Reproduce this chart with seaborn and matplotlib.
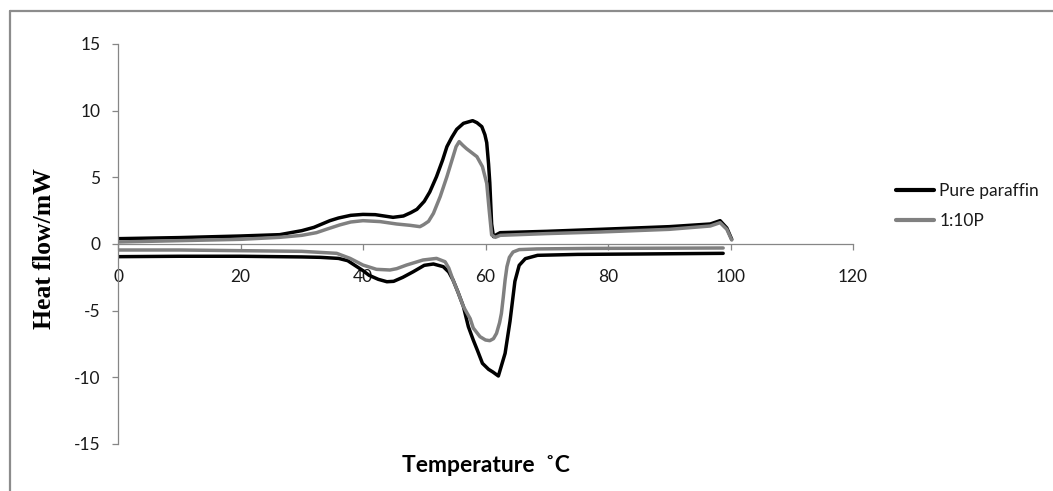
import numpy as np
import pandas as pd
import matplotlib
matplotlib.use("Agg")
import matplotlib.pyplot as plt
from matplotlib.lines import Line2D
import seaborn as sns

# ---------------- data ----------------
samples = ["Pure paraffin", "1:10P"]

pure_heat_T = [0, 10, 20, 26.4, 30, 32, 34.6, 36, 38, 40, 42, 44.9, 46.6, 47.8, 48.8, 50, 50.9,
               52.0, 53.0, 53.7, 54.5, 55.3, 56.4, 57.9, 58.6, 59.4, 59.9, 60.2, 60.5, 60.7, 61.0,
               61.3, 61.8, 62.4, 70, 78.7, 90, 96.7, 98.3, 99.4, 100.2]
pure_heat_H = [0.4, 0.48, 0.6, 0.7, 1.0, 1.25, 1.75, 1.95, 2.15, 2.22, 2.2, 2.0, 2.1, 2.35, 2.6, 3.2, 3.9,
               5.05, 6.3, 7.3, 8.0, 8.6, 9.05, 9.25, 9.1, 8.8, 8.2, 7.6, 6.0, 4.6, 1.5,
               0.55, 0.7, 0.85, 0.95, 1.1, 1.3, 1.5, 1.75, 1.2, 0.35]

pure_cool_T = [98.8, 85, 75, 68.5, 66.5, 65.5, 64.8, 64.0, 63.2, 62.1, 61.2, 60.5, 59.5, 58.7, 58.0,
               57.2, 56.4, 55.5, 54.7, 54.0, 53.1, 51.5, 50.0, 48.2, 46.5, 45.0, 43.9, 42.5, 41.0,
               40.0, 39.0, 37.5, 36.0, 33.0, 30.0, 20.0, 10.0, 0.0]
pure_cool_H = [-0.7, -0.75, -0.78, -0.85, -1.1, -1.6, -2.8, -5.8, -8.2, -9.9, -9.6, -9.4, -8.95, -8.0, -7.2,
               -6.2, -4.7, -3.6, -2.7, -2.1, -1.7, -1.5, -1.6, -2.08, -2.5, -2.8, -2.83, -2.65, -2.35,
               -2.0, -1.7, -1.25, -1.08, -1.0, -0.97, -0.92, -0.92, -0.95]

p10_heat_T = [0, 10, 20, 26.4, 30, 32.4, 34, 36.2, 38, 40, 42.8, 45.5, 47.7, 49.3, 49.9, 50.7, 51.5,
              52.6, 53.7, 54.7, 55.2, 55.7, 56.3, 56.9, 58.6, 59.5, 60.2, 60.6, 61.0, 61.6, 62.4,
              70, 78.7, 90, 96.7, 98.3, 99.4, 100.2]
p10_heat_H = [0.15, 0.25, 0.35, 0.5, 0.65, 0.85, 1.1, 1.43, 1.65, 1.75, 1.68, 1.5, 1.4, 1.3, 1.45, 1.7, 2.3,
              3.55, 5.05, 6.55, 7.3, 7.68, 7.4, 7.15, 6.55, 5.8, 4.55, 2.55, 0.68, 0.5, 0.65,
              0.78, 0.9, 1.1, 1.35, 1.6, 1.1, 0.3]

p10_cool_T = [98.8, 85, 77, 68.4, 65.5, 64.5, 63.9, 63.5, 63.2, 62.9, 62.6, 62.3, 61.8, 61.3, 60.7,
              60.0, 59.1, 58.0, 57.5, 56.4, 55.5, 54.7, 54.0, 53.4, 52.0, 49.8, 47.1, 45.5, 44.4,
              42.2, 40.0, 37.9, 35.7, 30.0, 20.0, 10.0, 0.0]
p10_cool_H = [-0.3, -0.32, -0.33, -0.37, -0.42, -0.6, -1.0, -1.7, -2.7, -4.0, -5.2, -5.9, -6.7, -7.1, -7.25,
              -7.2, -6.95, -6.3, -5.6, -4.7, -3.6, -2.7, -1.8, -1.33, -1.08, -1.2, -1.58, -1.85, -1.95,
              -1.9, -1.58, -1.08, -0.7, -0.55, -0.5, -0.45, -0.45]

x_ticks = [0, 20, 40, 60, 80, 100, 120]
y_ticks = [-15, -10, -5, 0, 5, 10, 15]

# ---------------- build long table ----------------
rows = []
for name, seg, T, H in [
    (samples[0], "pure_heat", pure_heat_T, pure_heat_H),
    (samples[0], "pure_cool", pure_cool_T, pure_cool_H),
    (samples[1], "p10_heat", p10_heat_T, p10_heat_H),
    (samples[1], "p10_cool", p10_cool_T, p10_cool_H),
]:
    for t, h in zip(T, H):
        rows.append({"Temperature": t, "HeatFlow": h, "Sample": name, "Segment": seg})
df = pd.DataFrame(rows)

# ---------------- style ----------------
sns.set_style("white")
plt.rcParams["font.family"] = ["Lato", "DejaVu Sans"]
plt.rcParams["axes.unicode_minus"] = False

W, H = 1053, 491
fig = plt.figure(figsize=(W / 100, H / 100), dpi=100)
ax = fig.add_axes([118 / W, 1 - 444 / H, (853 - 118) / W, 400 / H])

palette = {samples[0]: "#000000", samples[1]: "#808080"}
sns.lineplot(data=df, x="Temperature", y="HeatFlow", hue="Sample", units="Segment",
             estimator=None, sort=False, palette=palette, hue_order=samples,
             linewidth=2.5, ax=ax, legend=False)

ax.set_xlim(0, 120)
ax.set_ylim(-15, 15)
ax.set_xticks(x_ticks)
ax.set_yticks(y_ticks)
ax.set_xlabel("")
ax.set_ylabel("")

spine_col = "#868686"
for s in ["top", "right"]:
    ax.spines[s].set_visible(False)
ax.spines["bottom"].set_position(("data", 0))
ax.spines["bottom"].set_color(spine_col)
ax.spines["left"].set_color(spine_col)
ax.spines["bottom"].set_linewidth(0.9)
ax.spines["left"].set_linewidth(0.9)
ax.spines["bottom"].set_zorder(0.5)

ax.tick_params(axis="x", direction="out", length=4, width=0.9, color=spine_col,
               labelsize=12.5, labelcolor="#1a1a1a", pad=14, bottom=True)
ax.tick_params(axis="y", direction="out", length=4.5, width=0.9, color=spine_col,
               labelsize=12.5, labelcolor="#1a1a1a", pad=8, left=True)
ax.grid(False)

# axis titles
fig.text(45 / W, 1 - 249 / H, "Heat flow/mW", rotation=90, ha="center", va="center",
         family=["Liberation Serif", "DejaVu Serif"], fontweight="bold", fontsize=18.5,
         color="#000000")
fig.text(486 / W, 1 - 466 / H, "Temperature  \u02daC", ha="center", va="center",
         family=["Lato", "DejaVu Sans"], fontweight="bold", fontsize=16.5, color="#000000")

# legend
handles = [Line2D([], [], color=palette[s], lw=3) for s in samples]
fig.legend(handles, samples, loc="center left", bbox_to_anchor=(896 / W, 1 - 206 / H),
           frameon=False, fontsize=12.5, handlelength=2.2, handletextpad=0.3,
           labelspacing=0.85, borderpad=0, borderaxespad=0, labelcolor="#1a1a1a")

# outer chart frame (only left/top edges visible in the crop)
frame_col = "#8c8c8c"
fig.add_artist(Line2D([10 / W, 10 / W], [0, 1 - 10.5 / H], transform=fig.transFigure,
                      color=frame_col, lw=1.6))
fig.add_artist(Line2D([10 / W, 1], [1 - 10.5 / H, 1 - 10.5 / H], transform=fig.transFigure,
                      color=frame_col, lw=1.6))

fig.savefig("out.png", dpi=100, facecolor="white")
